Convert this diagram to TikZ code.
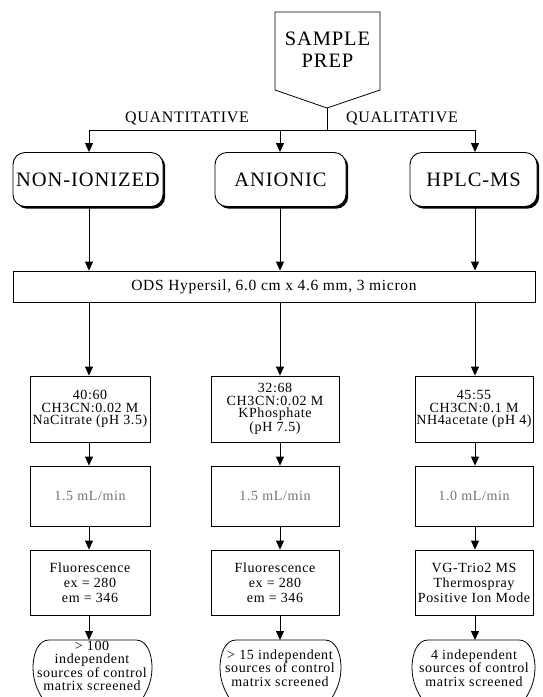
\documentclass[tikz,border=0pt]{standalone}
\usepackage{fontspec}
\setmainfont{Liberation Serif}[LetterSpace=4.5]
\usetikzlibrary{arrows.meta,shadows}
\newcommand\bshape[2]{%
  \draw[ln] ({#1+14},640) -- ({#2-14},640)
    .. controls ({#2-4},640) and ({#2+2},652) .. ({#2+2},668)
    .. controls ({#2+2},682) and ({#2-4},694) .. ({#2-10},702);
  \draw[ln] ({#1+14},640)
    .. controls ({#1+4},640) and ({#1-2},652) .. ({#1-2},668)
    .. controls ({#1-2},682) and ({#1+4},694) .. ({#1+10},702);
}
\tikzset{
  ln/.style={line width=0.8pt},
  lbl/.style={font=\fontsize{16}{16}\selectfont},
  big/.style={font=\fontsize{20.5}{22}\selectfont},
  rbox/.style={draw, line width=0.9pt, rounded corners=12pt, fill=white, big, inner sep=0pt,
    minimum height=54pt,
    drop shadow={opacity=1, fill=black, shadow xshift=2.2pt, shadow yshift=-2.2pt}},
  sbox/.style={draw, ln, align=center, inner sep=0pt, fill=white,
    font=\fontsize{14}{12.5}\selectfont},
  fbox/.style={sbox, text=black!55, font=\fontsize{14}{14}\selectfont},
  dbox/.style={sbox, font=\fontsize{14}{15}\selectfont},
  btxt/.style={align=center, inner sep=0pt, font=\fontsize{14}{13.5}\selectfont},
  arr/.style={ln, -{Triangle[width=8pt,length=9pt]}},
}
\begin{document}
\begin{tikzpicture}[x=1pt,y=-1pt]
\useasboundingbox (0,0) rectangle (543,697);
% sample prep
\coordinate (apex) at (327,108);
\draw[ln] (275,12) -- (380,12) -- (380,90) -- (apex) -- (275,90) -- cycle;
\node[big, align=center, inner sep=0pt] (sp) at (327.5,50) {SAMPLE\\PREP};
% split
\coordinate (sj) at (327,130);
\coordinate (hl) at (89,130);
\coordinate (hm) at (280,130);
\coordinate (hr) at (475,130);
\draw[ln] (apex) -- (sj);
\draw[ln] (hl) -- (hr);
\node[lbl] (qn) at (187,118) {QUANTITATIVE};
\node[lbl] (ql) at (402,118) {QUALITATIVE};
% round boxes
\node[rbox, minimum width=150pt] (ni) at (88,179.5) {NON-IONIZED};
\node[rbox, minimum width=131pt] (an) at (280.5,179.5) {ANIONIC};
\node[rbox, minimum width=127pt] (hp) at (473.5,179.5) {HPLC-MS};
\draw[arr] (hl) -- (ni.north -| hl);
\draw[arr] (hm) -- (an.north -| hm);
\draw[arr] (hr) -- (hp.north -| hr);
% column
\node[draw, ln, minimum width=522pt, minimum height=31pt, inner sep=0pt,
  font=\fontsize{15.5}{16}\selectfont] (ods) at (274,286.5) {ODS Hypersil, 6.0 cm x 4.6 mm, 3 micron};
\draw[arr] (ni.south -| hl) -- (ods.north -| hl);
\draw[arr] (an.south -| hm) -- (ods.north -| hm);
\draw[arr] (hp.south -| hr) -- (ods.north -| hr);
% mobile phase
\node[sbox, minimum width=120pt, minimum height=66pt] (m1) at (90,409) {40:60\\CH3CN:0.02 M\\NaCitrate (pH 3.5)};
\node[sbox, minimum width=128pt, minimum height=66pt] (m2) at (275,409) {32:68\\CH3CN:0.02 M\\KPhosphate\\(pH 7.5)};
\node[sbox, minimum width=118pt, minimum height=66pt] (m3) at (474,409) {45:55\\CH3CN:0.1 M\\NH4acetate (pH 4)};
\draw[arr] (ods.south -| hl) -- (m1.north -| hl);
\draw[arr] (ods.south -| hm) -- (m2.north -| hm);
\draw[arr] (ods.south -| hr) -- (m3.north -| hr);
% flow
\node[fbox, minimum width=120pt, minimum height=60pt] (f1) at (90,496) {1.5 mL/min};
\node[fbox, minimum width=128pt, minimum height=60pt] (f2) at (275,496) {1.5 mL/min};
\node[fbox, minimum width=118pt, minimum height=60pt] (f3) at (474,496) {1.0 mL/min};
\draw[arr] (m1.south -| hl) -- (f1.north -| hl);
\draw[arr] (m2.south -| hm) -- (f2.north -| hm);
\draw[arr] (m3.south -| hr) -- (f3.north -| hr);
% detector
\node[dbox, minimum width=120pt, minimum height=65pt] (d1) at (90,582.5) {Fluorescence\\ex = 280\\em = 346};
\node[dbox, minimum width=128pt, minimum height=65pt] (d2) at (275,582.5) {Fluorescence\\ex = 280\\em = 346};
\node[dbox, minimum width=118pt, minimum height=65pt] (d3) at (474,582.5) {VG-Trio2 MS\\Thermospray\\Positive Ion Mode};
\draw[arr] (f1.south -| hl) -- (d1.north -| hl);
\draw[arr] (f2.south -| hm) -- (d2.north -| hm);
\draw[arr] (f3.south -| hr) -- (d3.north -| hr);
% bottom
\bshape{35}{150}
\bshape{222}{339}
\bshape{414}{533}
\coordinate (b1t) at (89,640);
\coordinate (b2t) at (280,640);
\coordinate (b3t) at (475,640);
\node[btxt] (b1) at (92,666) {> 100\\independent\\sources of control\\matrix screened};
\node[btxt] (b2) at (280,668) {> 15 independent\\sources of control\\matrix screened};
\node[btxt] (b3) at (474,668) {4 independent\\sources of control\\matrix screened};
\draw[arr] (d1.south -| hl) -- (b1t);
\draw[arr] (d2.south -| hm) -- (b2t);
\draw[arr] (d3.south -| hr) -- (b3t);
\end{tikzpicture}
\end{document}
